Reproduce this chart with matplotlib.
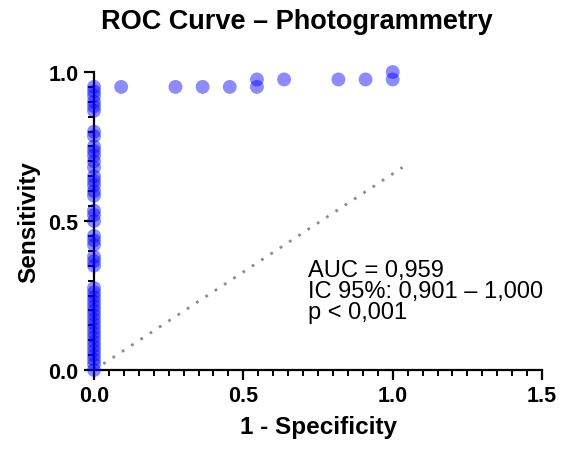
import numpy as np
import matplotlib.pyplot as plt
from matplotlib.ticker import MultipleLocator

plt.rcParams['font.family'] = ['Liberation Sans', 'DejaVu Sans']

# ROC points (1 - specificity, sensitivity)
col_sens = [0.95, 0.935, 0.92, 0.9, 0.885, 0.87, 0.8, 0.785, 0.75, 0.735, 0.72, 0.7,
            0.68, 0.65, 0.635, 0.62, 0.6, 0.585, 0.535, 0.52, 0.5, 0.45, 0.435, 0.42,
            0.38, 0.365, 0.35, 0.275, 0.26, 0.245, 0.23, 0.215, 0.2, 0.185, 0.17,
            0.155, 0.14, 0.125, 0.11, 0.095, 0.08, 0.065, 0.05, 0.035, 0.02, 0.0]
top_fpr = [0.0909, 0.2727, 0.3636, 0.4545, 0.5455, 0.5455, 0.6364, 0.8182, 0.9091, 1.0, 1.0]
top_sens = [0.95, 0.95, 0.95, 0.95, 0.95, 0.975, 0.975, 0.975, 0.975, 0.975, 1.0]

fpr = np.array([0.0] * len(col_sens) + top_fpr)
sens = np.array(col_sens + top_sens)

ref_x = [0.0, 1.033]
ref_y = [0.0, 0.68]

fig = plt.figure(figsize=(5.61, 4.52), dpi=100)
ax = fig.add_axes([0.1676, 0.1792, 0.7986, 0.6593])

ax.plot(ref_x, ref_y, color='#8c8c8c', lw=2, linestyle=(0, (1, 3)), clip_on=False)
ax.scatter(fpr, sens, s=100, color='blue', alpha=0.45, edgecolors='none', clip_on=False, zorder=3)

ax.set_xlim(0, 1.5)
ax.set_ylim(0, 1.0)
ax.xaxis.set_major_locator(MultipleLocator(0.5))
ax.xaxis.set_minor_locator(MultipleLocator(0.05))
ax.yaxis.set_major_locator(MultipleLocator(0.5))
ax.yaxis.set_minor_locator(MultipleLocator(0.05))
ax.spines['top'].set_visible(False)
ax.spines['right'].set_visible(False)
for s in ['left', 'bottom']:
    ax.spines[s].set_linewidth(1.6)
ax.tick_params(which='major', length=7, width=1.6, labelsize=15.5, pad=4)
ax.tick_params(which='minor', length=4, width=1.4)
for lab in ax.get_xticklabels() + ax.get_yticklabels():
    lab.set_fontweight('bold')

ax.set_xlabel('1 - Specificity', fontsize=17.5, fontweight='bold', labelpad=6)
ax.set_ylabel('Sensitivity', fontsize=17.5, fontweight='bold', labelpad=6)
fig.text(297 / 561, 1 - 22 / 452, 'ROC Curve \u2013 Photogrammetry', fontsize=19.5,
         fontweight='bold', ha='center', va='center')

fig.text(308 / 561, 1 - 271 / 452, 'AUC = 0,959', fontsize=17, va='center')
fig.text(308 / 561, 1 - 292 / 452, 'IC 95%: 0,901 \u2013 1,000', fontsize=17, va='center')
fig.text(308 / 561, 1 - 313 / 452, 'p < 0,001', fontsize=17, va='center')

plt.savefig('out.png', dpi=100)
plt.close()
